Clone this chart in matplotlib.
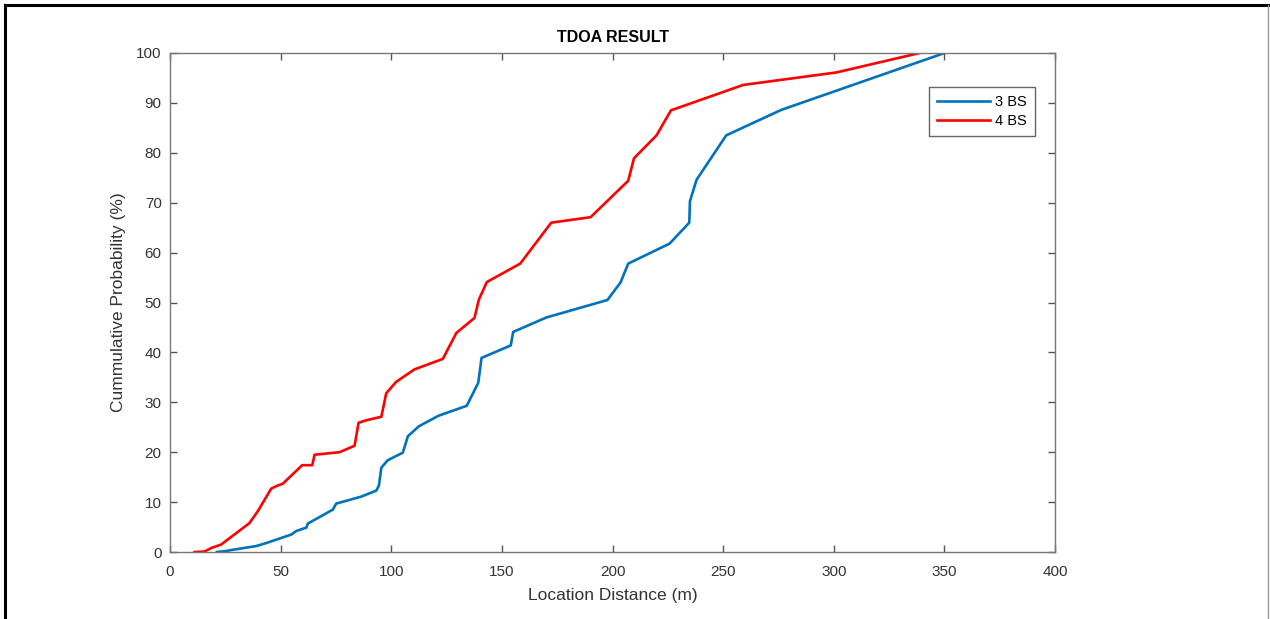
import matplotlib.pyplot as plt
from matplotlib.lines import Line2D

plt.rcParams['font.family'] = ['Liberation Sans', 'DejaVu Sans']

# CDF of location error
dist_3bs = [21.2, 25.4, 27.7, 39.0, 43.5, 54.8, 57.0, 61.6, 62.3, 73.6, 75.1,
            86.4, 93.2, 94.4, 95.5, 98.4, 105.2, 107.5, 112.5, 121.3, 134.1,
            139.3, 140.8, 154.0, 155.1, 170.1, 197.7, 203.6, 207.1, 225.8,
            234.7, 235.0, 238.0, 251.4, 276.3, 350.1]
prob_3bs = [0.0, 0.2, 0.4, 1.2, 1.8, 3.5, 4.2, 4.9, 5.7, 8.5, 9.7,
            11.1, 12.3, 13.3, 16.9, 18.4, 19.9, 23.2, 25.2, 27.3, 29.3,
            33.9, 38.9, 41.4, 44.1, 47.0, 50.5, 54.0, 57.8, 61.8,
            66.0, 70.3, 74.6, 83.5, 88.6, 100.0]

dist_4bs = [11.1, 15.6, 18.6, 23.1, 35.9, 39.7, 45.7, 48.0, 51.0, 59.7, 64.3,
            65.3, 76.6, 83.4, 85.2, 88.7, 95.5, 97.7, 102.2, 110.5, 123.3,
            129.4, 137.6, 139.6, 143.2, 158.3, 172.3, 190.1, 207.1, 209.7,
            219.9, 226.4, 259.1, 301.2, 338.8]
prob_4bs = [0.0, 0.1, 0.8, 1.5, 5.8, 8.2, 12.7, 13.2, 13.7, 17.4, 17.4,
            19.5, 20.0, 21.3, 25.9, 26.4, 27.1, 31.8, 34.1, 36.6, 38.7,
            43.9, 46.9, 50.6, 54.1, 57.8, 66.0, 67.1, 74.4, 78.9,
            83.5, 88.5, 93.6, 96.1, 100.0]

x_ticks = [0, 50, 100, 150, 200, 250, 300, 350, 400]
y_ticks = [0, 10, 20, 30, 40, 50, 60, 70, 80, 90, 100]

fig = plt.figure(figsize=(12.7, 6.19), dpi=100)
ax = fig.add_axes([0.1339, 0.1082, 0.6968, 0.8062])

ax.plot(dist_3bs, prob_3bs, color='#0072BD', lw=1.9, label='3 BS')
ax.plot(dist_4bs, prob_4bs, color='#FF0000', lw=1.9, label='4 BS')

ax.set_xlim(0, 400)
ax.set_ylim(0, 100)
ax.set_xticks(x_ticks)
ax.set_yticks(y_ticks)
ax.tick_params(direction='in', length=5, width=1, color='#555555',
               labelcolor='#333333', labelsize=11, top=True, right=True)
ax.tick_params(axis='x', pad=9)
ax.tick_params(axis='y', pad=6)
for s in ax.spines.values():
    s.set_color('#777777')
    s.set_linewidth(1)

ax.set_title('TDOA RESULT', fontsize=11.5, fontweight='bold', pad=8)
ax.set_xlabel('Location Distance (m)', fontsize=12.5, color='#333333', labelpad=7)
ax.set_ylabel('Cummulative Probability (%)', fontsize=12.5, color='#333333', labelpad=7)

leg = ax.legend(loc='upper right', bbox_to_anchor=(0.977, 0.932),
                fontsize=10.5, handlelength=3.7, fancybox=False, framealpha=1,
                edgecolor='#666666', borderpad=0.55, labelspacing=0.35,
                handletextpad=0.3, borderaxespad=0)
leg.get_frame().set_linewidth(1)

# outer frame of the screenshot
fig.add_artist(Line2D([5/1270, 5/1270], [0, 1 - 5/619], color='black', lw=2.2))
fig.add_artist(Line2D([5/1270, 1268/1270], [1 - 5/619, 1 - 5/619], color='black', lw=2.2))
fig.add_artist(Line2D([1268/1270, 1268/1270], [0, 1 - 5/619], color='#999999', lw=1))

fig.savefig('out.png', dpi=100)
